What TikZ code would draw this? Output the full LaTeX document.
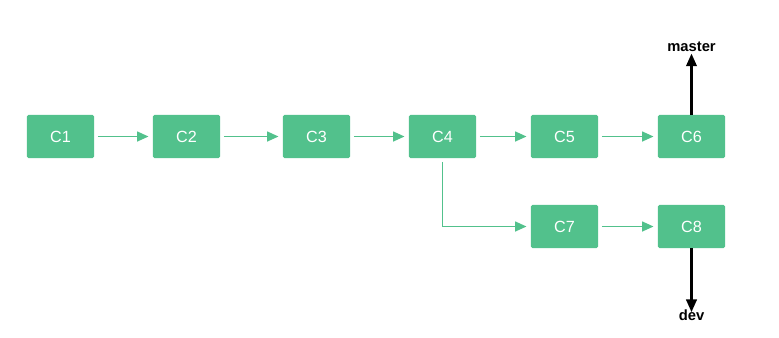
\documentclass[tikz,border=0pt]{standalone}
\usepackage{fontspec}
\setmainfont{Liberation Sans}
\usetikzlibrary{arrows.meta}
\definecolor{commitgreen}{RGB}{82,193,140}

\begin{document}
\begin{tikzpicture}[x=0.025cm,y=-0.025cm,
  commit/.style={fill=commitgreen,rounded corners=1pt,minimum width=1.675cm,minimum height=1.075cm,text=white,font=\fontsize{11.5}{13}\selectfont,inner sep=0pt},
  link/.style={draw=commitgreen,line width=1pt,-{Triangle[length=8pt,width=7pt]},shorten <=2.5pt,shorten >=3pt},
  ref/.style={line width=1.6pt,-{Triangle[length=9pt,width=7.5pt]}},
  branch/.style={font=\bfseries\fontsize{10.5}{12}\selectfont,inner sep=1pt}]
\useasboundingbox (0,0) rectangle (779,337);
\node[commit] (C1) at (60.5,136.5) {C1};
\node[commit] (C2) at (186.5,136.5) {C2};
\node[commit] (C3) at (316.5,136.5) {C3};
\node[commit] (C4) at (442.5,136.5) {C4};
\node[commit] (C5) at (564.5,136.5) {C5};
\node[commit] (C6) at (691.5,136.5) {C6};
\node[commit] (C7) at (564.5,226.5) {C7};
\node[commit] (C8) at (691.5,226.5) {C8};
\node[branch] (master) at (691.5,47) {master};
\node[branch] (dev) at (691.5,315) {dev};

\draw[link] (C1) to (C2);
\draw[link] (C2) to (C3);
\draw[link] (C3) to (C4);
\draw[link] (C4) to (C5);
\draw[link] (C5) to (C6);
\draw[link] (C4) |- (C7);
\draw[link] (C7) to (C8);
\draw[ref] (C6) to (master);
\draw[ref,shorten >=-3pt] (C8) to (dev);
\end{tikzpicture}
\end{document}
